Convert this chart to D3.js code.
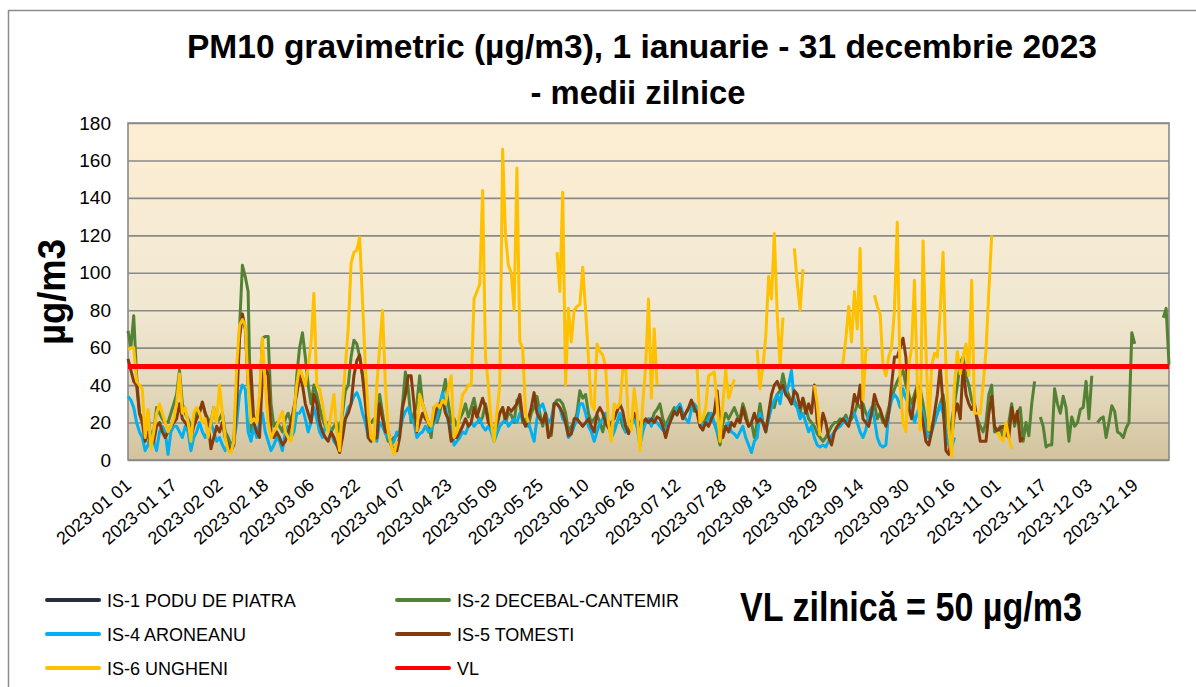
<!DOCTYPE html>
<html>
<head>
<meta charset="utf-8">
<script src="https://cdn.jsdelivr.net/npm/d3@7"></script>
<style>
  body { margin: 0; background: #fff; }
  svg { display: block; font-family: "Liberation Sans Narrow", "Arial Narrow", "Liberation Sans", sans-serif; }
</style>
</head>
<body>
<div id="chart"></div>
<script>
// daily PM10 values, one per day from 2023-01-01 (null = no data)
var is1 = [];   // IS-1 PODU DE PIATRA: no data shown

var is2 = [
  69, 60, 77, 45, 25, 22, 15, 25, 10, 15,
  28, 25, 22, 20, 20, 25, 30, 35, 48, 30,
  25, 22, 18, 20, 25, 27, 30, 25, 22, 20,
  28, 20, 22, 25, 15, 12, 8, 10, 40, 70,
  104, 98, 90, 15, 20, 22, 30, 65, 66, 66,
  30, 18, 20, 18, 15, 22, 25, 20, 20, 45,
  60, 68, 55, 40, 30, 40, 35, 28, 22, 18,
  20, 15, 18, 20, 15, 25, 37, 40, 55, 64,
  62, 55, 45, 35, 20, 20, 22, 18, 35, 25,
  15, 10, 10, 12, 13, 15, 30, 47, 38, 20,
  25, 30, 45, 30, 25, 20, 12, 28, 20, 25,
  35, 43, 30, 20, 22, 18, 22, 25, 30, 23,
  28, 33, 25, 20, 23, 30, 22, 18, 15, 18,
  25, 28, 20, 25, 24, 20, 32, 30, 20, 22,
  18, 25, 28, 34, 25, 18, 25, 15, 13, 30,
  32, 32, 30, 25, 15, 18, 20, 25, 37, 33,
  35, 25, 20, 22, 24, 20, 15, 22, 20, 12,
  17, 20, 24, 18, 15, 17, 20, 22, 18, 12,
  18, 20, 22, 20, 25, 27, 30, 22, 18, 22,
  25, 28, 25, 28, 22, 25, 27, 30, 26, 28,
  22, 20, 22, 25, 22, 20, 15, 8, 20, 25,
  22, 25, 28, 24, 22, 30, 25, 18, 20, 12,
  20, 30, 20, 18, 22, 30, 28, 35, 37, 46,
  38, 35, 30, 32, 28, 25, 33, 28, 22, 20,
  18, 14, 12, 10, 12, 15, 18, 20, 20, 22,
  21, 24, 20, 22, 25, 30, 28, 30, 25, 22,
  25, 30, 22, 25, 20, 22, 28, 33, 38, 42,
  45, 48, 40, 35, 30, 35, 40, 38, 30, 20,
  15, 18, 20, 25, 30, 35, 25, 15, 20, 30,
  40, 52, 55, 45, 40, 32, 28, 22, 18, 15,
  20, 35, 40, 15, 16, 18, 12, 14, 20, 30,
  18, 25, 28, 10, 20, 13, 30, 42, null, 23,
  18, 7, 8, 8, 38, 30, 25, 34, 28, 10,
  23, 18, 20, 27, 28, 42, 22, 45, null, 20,
  22, 23, 12, 20, 29, 26, 15, 14, 12, 17,
  20, 68, 62, null, null, null, null, null, null, null,
  null, null, 76, 81, 51
];

var is4 = [
  34, 32, 28, 20, 15, 12, 5, 8, 15, 10,
  5, 15, 18, 15, 3, 15, 18, 18, 15, 12,
  18, 15, 5, 12, 15, 20, 15, 12, 15, 20,
  15, 10, 12, 8, 5, 8, 6, 10, 20, 35,
  40, 38, 15, 10, 18, 12, 20, 25, 15, 10,
  5, 8, 12, 10, 5, 15, 18, 12, 15, 25,
  25, 28, 22, 15, 20, 28, 22, 15, 12, 18,
  20, 15, 10, 8, 12, 15, 22, 28, 30, 34,
  36, 32, 25, 20, 12, 10, 12, 10, 20, 18,
  14, 12, 8, 10, 15, 14, 22, 26, 28, 22,
  20, 12, 14, 15, 18, 15, 16, 20, 22, 30,
  36, 28, 20, 18, 8, 10, 12, 15, 14, 18,
  20, 18, 20, 22, 18, 16, 18, 15, 10, 14,
  18, 20, 22, 18, 20, 22, 20, 25, 22, 18,
  20, 15, 10, 22, 28, 30, 25, 20, 22, 30,
  30, 28, 22, 20, 12, 14, 18, 22, 30, 30,
  25, 18, 15, 10, 15, 20, 22, 25, 20, 12,
  15, 20, 25, 22, 15, 18, 20, 22, 18, 8,
  15, 20, 22, 18, 22, 20, 18, 16, 15, 20,
  22, 25, 28, 30, 25, 22, 20, 27, 30, 28,
  22, 18, 20, 22, 25, 20, 15, 12, 14, 18,
  20, 15, 14, 12, 15, 18, 12, 8, 4, 10,
  12, 25, 20, 15, 22, 28, 32, 35, 30, 40,
  35, 40, 48, 30, 28, 22, 25, 20, 15, 18,
  12, 8, 7, 8, 7, 10, 13, 15, 17, 18,
  20, 22, 20, 24, 25, 20, 15, 12, 16, 25,
  28, 22, 12, 8, 7, 8, 25, 32, 35, 33,
  28, 38, 33, 30, 28, 20, 25, 30, 25, 15,
  12, 15, 20, 25, 30, 25, 15, 8, 7, 12
];

var is5 = [
  54, 48, 42, 40, 25, 20, 10, 15, 8, 10,
  18, 20, 15, 12, 15, 18, 20, 22, 30, 22,
  20, 18, 12, 18, 22, 25, 31, 25, 20, 6,
  12, 18, 15, 20, 12, 8, 5, 8, 30, 65,
  78, 70, 40, 48, 20, 15, 12, 45, 50, 45,
  15, 12, 15, 12, 8, 10, 15, 20, 28, 35,
  45, 40, 30, 25, 20, 35, 30, 20, 15, 12,
  10, 15, 12, 8, 4, 12, 22, 25, 30, 45,
  53, 56, 45, 30, 12, 10, 11, 12, 30, 22,
  15, 15, 8, 5, 5, 12, 28, 35, 45, 45,
  30, 15, 20, 25, 22, 20, 18, 22, 28, 30,
  32, 25, 22, 10, 12, 12, 15, 18, 22, 18,
  20, 28, 23, 28, 33, 28, 20, 18, 15, 20,
  25, 28, 22, 28, 26, 28, 30, 35, 22, 18,
  22, 28, 36, 25, 22, 20, 25, 12, 15, 30,
  30, 28, 25, 20, 13, 14, 22, 22, 20, 18,
  20, 22, 18, 15, 25, 28, 25, 20, 17, 20,
  22, 26, 30, 26, 18, 14, 20, 25, 22, 18,
  20, 22, 20, 22, 20, 23, 22, 18, 12, 18,
  22, 26, 24, 28, 22, 25, 28, 32, 28, 25,
  18, 16, 20, 18, 22, 25, 37, 20, 12, 18,
  15, 20, 18, 22, 20, 28, 22, 18, 20, 25,
  20, 22, 20, 15, 25, 35, 40, 42, 38, 40,
  35, 33, 30, 37, 35, 28, 33, 25, 30, 25,
  40, 20, 15, 25, 20, 12, 8, 15, 18, 20,
  22, 20, 18, 25, 35, 30, 40, 22, 20, 18,
  25, 35, 30, 27, 22, 18, 25, 40, 55, 55,
  60, 65, 55, 28, 22, 32, 38, 28, 20, 10,
  8, 15, 25, 35, 50, 30, 5, 3, 12, 25,
  30, 22, 50, 35, 30, 27, 30, 20, 10, 10,
  10, 25, 34, 18, 15, 17, 18, 14, 12, 28,
  20, 26, 10, 12
];

var is6 = [
  59, 60, 60, 42, 40, 38, 12, 27, 6, 15,
  25, 30, 25, 20, 15, 18, 22, 30, 46, 25,
  28, 20, 10, 25, 28, 25, 20, 22, 12, 20,
  28, 20, 40, 25, 12, 5, 4, 10, 50, 72,
  75, 72, 40, 20, 22, 20, 35, 65, 40, 20,
  12, 15, 18, 22, 26, 15, 12, 10, 25, 40,
  50, 45, 40, 50, 62, 89, 40, 38, 30, 20,
  15, 25, 35, 15, 5, 30, 50, 70, 105, 111,
  112, 119, 85, 50, 25, 12, 10, 40, 60, 80,
  40, 15, 8, 3, 10, null, null, null, null, null,
  null, 15, 35, 30, 25, 20, 18, 28, 30, 28,
  32, 30, 38, 45, 12, 15, 25, 35, 37, 40,
  40, 86, 90, 94, 144, 55, 40, 20, 10, 25,
  40, 166, 120, 104, 100, 80, 156, 63, 60, 25,
  20, null, null, null, null, null, null, null, null, null,
  111, 90, 143, 40, 81, 63, 80, 82, 83, 103,
  80, 55, 30, 27, 62, 58, 56, 50, 20, 10,
  30, 28, 30, 48, 50, 20, 16, 38, 25, 5,
  30, 50, 86, 33, 70, 40, null, null, null, null,
  null, null, null, null, null, null, null, null, null, 49,
  20, 22, 28, 45, 46, 47, 30, 10, 30, 48,
  33, 38, 43, null, null, null, null, null, null, null,
  59, 38, 50, 66, 98, 86, 121, 78, 50, 76,
  null, null, null, 113, 95, 80, 102, null, null, null,
  40, 30, 13, null, null, null, null, null, null, 50,
  52, 65, 82, 63, 90, 70, 113, 32, 58, 60,
  null, 88, 82, 78, 50, 45, 55, 60, 80, 127,
  40, 20, 15, 50, 60, 96, 40, 16, 117, 60,
  16, 50, 57, 55, 80, 111, 50, 16, 2, 40,
  58, 46, 55, 62, 45, 96, 25, 25, 25, 40,
  58, 90, 120, null, 15, 12, 10, 20, 12, 6
];

var seriesNames = ['IS-1 PODU DE PIATRA', 'IS-2 DECEBAL-CANTEMIR', 'IS-4 ARONEANU', 'IS-5 TOMESTI', 'IS-6 UNGHENI'];
var seriesValues = [is1, is2, is4, is5, is6];
var seriesColors = ['#262f3d', '#548235', '#00b0f0', '#843c0c', '#ffc000'];

var limitName = 'VL';
var limitValue = 50;
var limitColor = '#ff0000';

var yTicks = [0, 20, 40, 60, 80, 100, 120, 140, 160, 180];
var tickLabels = ['2023-01 01', '2023-01 17', '2023-02 02', '2023-02 18', '2023-03 06', '2023-03 22',
  '2023-04 07', '2023-04 23', '2023-05 09', '2023-05 25', '2023-06 10', '2023-06 26', '2023-07 12',
  '2023-07 28', '2023-08 13', '2023-08 29', '2023-09 14', '2023-09 30', '2023-10 16', '2023-11 01',
  '2023-11 17', '2023-12 03', '2023-12 19'];

var width = 1196, height = 687;
var plot = { left: 128, right: 1169, top: 123, bottom: 460 };

var days = d3.timeDays(new Date(2023, 0, 1), new Date(2024, 0, 1));
var parseTick = d3.timeParse('%Y-%m %d');

var x = d3.scaleTime()
  .domain([days[0], days[days.length - 1]])
  .range([plot.left, plot.right]);

var y = d3.scaleLinear()
  .domain([0, 180])
  .range([plot.bottom, plot.top]);

var svg = d3.select('#chart').append('svg')
  .attr('width', width)
  .attr('height', height);

// outer frame (only left and top edges visible)
svg.append('path')
  .attr('d', 'M8.5,' + height + 'V10.5H' + width)
  .attr('fill', 'none')
  .attr('stroke', '#8c8c8c')
  .attr('stroke-width', 1.5);

var grad = svg.append('defs').append('linearGradient')
  .attr('id', 'bg').attr('x1', 0).attr('y1', 0).attr('x2', 0).attr('y2', 1);
grad.append('stop').attr('offset', '0%').attr('stop-color', '#fdeed3');
grad.append('stop').attr('offset', '55%').attr('stop-color', '#f1e8d2');
grad.append('stop').attr('offset', '80%').attr('stop-color', '#e3d8bb');
grad.append('stop').attr('offset', '100%').attr('stop-color', '#d2c39d');

svg.append('rect')
  .attr('x', plot.left).attr('y', plot.top)
  .attr('width', plot.right - plot.left).attr('height', plot.bottom - plot.top)
  .attr('fill', 'url(#bg)');

// gridlines + y labels
var yAxis = svg.append('g')
  .attr('transform', 'translate(' + plot.left + ',0)')
  .call(d3.axisLeft(y).tickValues(yTicks).tickSize(-(plot.right - plot.left)).tickPadding(17));
yAxis.select('.domain').remove();
yAxis.selectAll('line').attr('stroke', '#8a8a8a').attr('stroke-width', 1.6);
yAxis.selectAll('text')
  .attr('fill', '#000')
  .style('font-family', '"Liberation Sans Narrow", "Liberation Sans", sans-serif')
  .style('font-size', '19px');

// plot border
svg.append('rect')
  .attr('x', plot.left).attr('y', plot.top)
  .attr('width', plot.right - plot.left).attr('height', plot.bottom - plot.top)
  .attr('fill', 'none')
  .attr('stroke', '#8a8a8a')
  .attr('stroke-width', 1.6);

// x labels
var xAxis = svg.append('g')
  .attr('transform', 'translate(0,' + plot.bottom + ')')
  .call(d3.axisBottom(x)
    .tickValues(tickLabels.map(function (t) { return parseTick(t); }))
    .tickFormat(function (d, i) { return tickLabels[i]; })
    .tickSize(0));
xAxis.select('.domain').remove();
xAxis.selectAll('text')
  .attr('fill', '#000')
  .attr('text-anchor', 'end')
  .attr('dy', 0)
  .attr('y', 0)
  .attr('transform', 'translate(4,27) rotate(-40)')
  .style('font-family', '"Liberation Sans Narrow", "Liberation Sans", sans-serif')
  .style('font-size', '18px');

// series lines
var line = d3.line()
  .defined(function (d) { return d.v != null; })
  .x(function (d) { return x(d.date); })
  .y(function (d) { return y(d.v); });

seriesValues.forEach(function (vals, k) {
  var pts = days.map(function (date, i) {
    return { date: date, v: vals[i] == null ? null : vals[i] };
  });
  svg.append('path')
    .datum(pts)
    .attr('d', line)
    .attr('fill', 'none')
    .attr('stroke', seriesColors[k])
    .attr('stroke-width', 3)
    .attr('stroke-linejoin', 'round');
});

// daily limit value
svg.append('line')
  .attr('x1', x(days[0])).attr('x2', x(days[days.length - 1]))
  .attr('y1', y(limitValue)).attr('y2', y(limitValue))
  .attr('stroke', limitColor)
  .attr('stroke-width', 5);

// titles
svg.append('text')
  .attr('x', 642).attr('y', 58)
  .attr('text-anchor', 'middle')
  .attr('textLength', 910).attr('lengthAdjust', 'spacingAndGlyphs')
  .style('font-size', '34px').style('font-weight', 'bold')
  .text('PM10 gravimetric (µg/m3), 1 ianuarie - 31 decembrie 2023');
svg.append('text')
  .attr('x', 638).attr('y', 104)
  .attr('text-anchor', 'middle')
  .attr('textLength', 215).attr('lengthAdjust', 'spacingAndGlyphs')
  .style('font-size', '34px').style('font-weight', 'bold')
  .text('- medii zilnice');

svg.append('text')
  .attr('transform', 'translate(65,292) rotate(-90)')
  .attr('text-anchor', 'middle')
  .attr('textLength', 106).attr('lengthAdjust', 'spacingAndGlyphs')
  .style('font-size', '38px').style('font-weight', 'bold')
  .text('µg/m3');

// legend
var legendItems = seriesNames.map(function (n, k) { return { name: n, color: seriesColors[k] }; })
  .concat([{ name: limitName, color: limitColor }]);

var legend = svg.selectAll('.legend')
  .data(legendItems)
  .enter().append('g')
  .attr('class', 'legend')
  .attr('transform', function (d, i) {
    return 'translate(' + (i % 2 === 0 ? 47 : 397) + ',' + (600 + Math.floor(i / 2) * 34) + ')';
  });
legend.append('line')
  .attr('x1', 0).attr('x2', 52)
  .attr('stroke', function (d) { return d.color; })
  .attr('stroke-width', 4)
  .attr('stroke-linecap', 'round');
legend.append('text')
  .attr('x', 60).attr('y', 6.5)
  .style('font-size', '18px')
  .text(function (d) { return d.name; });

svg.append('text')
  .attr('x', 740).attr('y', 621)
  .attr('textLength', 342).attr('lengthAdjust', 'spacingAndGlyphs')
  .style('font-size', '40px').style('font-weight', 'bold')
  .text('VL zilnică = ' + limitValue + ' µg/m3');
</script>
</body>
</html>
